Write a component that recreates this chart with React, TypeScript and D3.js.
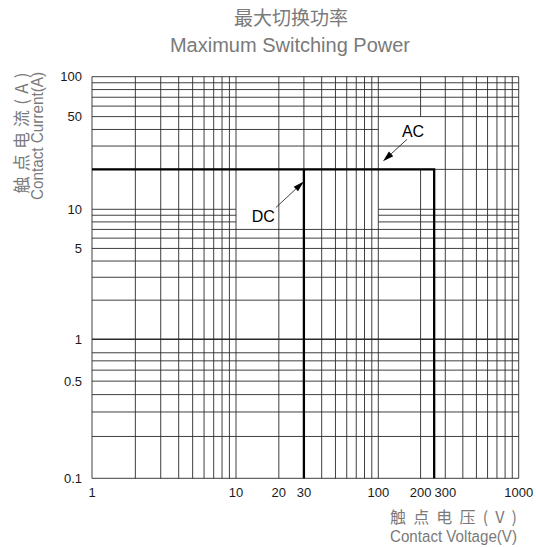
import React, { useEffect, useRef } from "react";
import * as d3 from "d3";

// 刻度标签
const voltageTicks = [1, 10, 20, 30, 100, 200, 300, 1000];
const currentTicks = [100, 50, 10, 5, 1, 0.5, 0.1];

// 对数网格线
const voltageGrid = [
  1, 2, 3, 4, 5, 6, 7, 8, 9, 10, 20, 30, 40, 50, 60, 70, 80, 90, 100, 200, 300,
  400, 500, 600, 700, 800, 900, 1000,
];
const currentGrid = [
  0.1, 0.2, 0.3, 0.4, 0.5, 0.6, 0.7, 0.8, 1, 2, 3, 4, 5, 6, 7, 8, 9, 10, 20, 30,
  40, 50, 60, 70, 80, 90, 100,
];

// 原图在标注文字处擦掉的网格段
const currentGridGaps = [
  { value: 10, from: 10, to: 100 },
  { value: 9, from: 10, to: 100 },
  { value: 8, from: 10, to: 100 },
  { value: 40, from: 100, to: 1000 },
];
const voltageGridGaps = [{ value: 200, from: 20, to: 50 }];

// 切换功率边界
const maxCurrent = 20;
const dcMaxVoltage = 30;
const acMaxVoltage = 250;

// 标注箭头（箭头尖端的数据坐标）
const annotations = [
  { label: "DC", tip: [30, 16.2], tail: [-28, 26] },
  { label: "AC", tip: [108, 23], tail: [24, -22] },
];

const W = 536;
const H = 547;
const CJK = "'Noto Sans CJK SC', 'Noto Sans', sans-serif";
const LATIN = "'Liberation Sans', Arial, sans-serif";

const App: React.FC = () => {
  const svgRef = useRef<SVGSVGElement>(null);

  useEffect(() => {
    if (!svgRef.current) return;
    const svg = d3.select(svgRef.current);
    svg.selectAll("*").remove();

    // 原图各数量级间距略有差异，用分段对数比例尺
    const x = d3
      .scaleLog()
      .domain([1, 10, 100, 1000])
      .range([92, 236, 378.3, 518.7]);
    const y = d3
      .scaleLog()
      .domain([0.1, 1, 10, 100])
      .range([478.3, 339.3, 209.3, 76.7]);

    const [xMin, xMax] = [1, 1000];
    const [yMin, yMax] = [0.1, 100];

    const grid = svg.append("g").attr("stroke", "#2a2a2a").attr("fill", "none");

    // 水平网格
    currentGrid.forEach((v) => {
      const gap = currentGridGaps.find((g) => g.value === v);
      const segs = gap
        ? [
            [xMin, gap.from],
            [gap.to, xMax],
          ].filter((s) => s[0] < s[1])
        : [[xMin, xMax]];
      segs.forEach(([a, b]) => {
        grid
          .append("line")
          .attr("x1", x(a))
          .attr("x2", x(b))
          .attr("y1", y(v))
          .attr("y2", y(v))
          .attr("stroke-width", v === 1 ? 1.6 : 0.9);
      });
    });

    // 垂直网格
    voltageGrid.forEach((v) => {
      const gap = voltageGridGaps.find((g) => g.value === v);
      const segs = gap
        ? [
            [yMin, gap.from],
            [gap.to, yMax],
          ]
        : [[yMin, yMax]];
      segs.forEach(([a, b]) => {
        grid
          .append("line")
          .attr("x1", x(v))
          .attr("x2", x(v))
          .attr("y1", y(a))
          .attr("y2", y(b))
          .attr("stroke-width", 0.9);
      });
    });

    // 边界线
    const line = d3
      .line<number[]>()
      .x((d) => x(d[0]))
      .y((d) => y(d[1]));
    const limits = [
      [
        [xMin, maxCurrent],
        [acMaxVoltage, maxCurrent],
        [acMaxVoltage, yMin],
      ],
      [
        [dcMaxVoltage, maxCurrent],
        [dcMaxVoltage, yMin],
      ],
    ];
    svg
      .append("g")
      .selectAll("path")
      .data(limits)
      .enter()
      .append("path")
      .attr("d", (d) => line(d) || "")
      .attr("fill", "none")
      .attr("stroke", "#000")
      .attr("stroke-width", 2.3);

    // 刻度文字
    svg
      .append("g")
      .selectAll("text")
      .data(voltageTicks)
      .enter()
      .append("text")
      .attr("x", (d) => x(d))
      .attr("y", 497)
      .attr("text-anchor", "middle")
      .style("font-family", LATIN)
      .style("font-size", "13px")
      .style("fill", "#1a1a1a")
      .text((d) => String(d));

    svg
      .append("g")
      .selectAll("text")
      .data(currentTicks)
      .enter()
      .append("text")
      .attr("x", 82)
      .attr("y", (d) => y(d))
      .attr("dy", "0.36em")
      .attr("text-anchor", "end")
      .style("font-family", LATIN)
      .style("font-size", "13px")
      .style("fill", "#1a1a1a")
      .text((d) => String(d));

    // 标注
    annotations.forEach((a) => {
      const tx = x(a.tip[0]);
      const ty = y(a.tip[1]);
      const sx = tx + a.tail[0];
      const sy = ty + a.tail[1];
      const ang = Math.atan2(ty - sy, tx - sx);
      const len = 11;
      const half = 3.2;
      const bx = tx - len * Math.cos(ang);
      const by = ty - len * Math.sin(ang);
      const px = -Math.sin(ang) * half;
      const py = Math.cos(ang) * half;
      svg
        .append("line")
        .attr("x1", sx)
        .attr("y1", sy)
        .attr("x2", bx)
        .attr("y2", by)
        .attr("stroke", "#111")
        .attr("stroke-width", 0.8);
      svg
        .append("polygon")
        .attr(
          "points",
          `${tx},${ty} ${bx + px},${by + py} ${bx - px},${by - py}`
        )
        .attr("fill", "#000");
      const left = a.tail[0] < 0;
      svg
        .append("text")
        .attr("x", left ? sx - 1 : sx + 6)
        .attr("y", left ? sy + 14.5 : sy - 2.5)
        .attr("text-anchor", left ? "end" : "middle")
        .style("font-family", LATIN)
        .style("font-size", "16px")
        .style("fill", "#000")
        .text(a.label);
    });

    // 标题
    const title = svg
      .append("g")
      .attr("text-anchor", "middle")
      .style("fill", "#7a7a7a");
    title
      .append("text")
      .attr("x", 291)
      .attr("y", 25)
      .style("font-family", CJK)
      .style("font-size", "19px")
      .text("最大切换功率");
    title
      .append("text")
      .attr("x", 290)
      .attr("y", 51.5)
      .style("font-family", LATIN)
      .style("font-size", "20px")
      .text("Maximum Switching Power");

    // Y 轴标题
    const yTitle = svg
      .append("g")
      .attr("text-anchor", "middle")
      .style("fill", "#7a7a7a");
    yTitle
      .append("text")
      .attr("transform", "translate(27.5,133) rotate(-90)")
      .attr("textLength", 121)
      .attr("lengthAdjust", "spacing")
      .style("font-family", CJK)
      .style("font-size", "17px")
      .text("触点电流(A)");
    yTitle
      .append("text")
      .attr("transform", "translate(42.5,136) rotate(-90)")
      .attr("textLength", 128)
      .attr("lengthAdjust", "spacingAndGlyphs")
      .style("font-family", LATIN)
      .style("font-size", "16px")
      .text("Contact Current(A)");

    // X 轴标题
    const xTitle = svg
      .append("g")
      .attr("text-anchor", "end")
      .style("fill", "#7a7a7a");
    xTitle
      .append("text")
      .attr("x", 517)
      .attr("y", 523)
      .attr("textLength", 127)
      .attr("lengthAdjust", "spacing")
      .style("font-family", CJK)
      .style("font-size", "16px")
      .text("触点电压(V)");
    xTitle
      .append("text")
      .attr("x", 517)
      .attr("y", 541.5)
      .attr("textLength", 127)
      .attr("lengthAdjust", "spacingAndGlyphs")
      .style("font-family", LATIN)
      .style("font-size", "16px")
      .text("Contact Voltage(V)");
  }, []);

  return (
    <div style={{ position: "absolute", left: 0, top: 0, background: "#fff" }}>
      <svg ref={svgRef} width={W} height={H} style={{ display: "block" }} />
    </div>
  );
};

export default App;
